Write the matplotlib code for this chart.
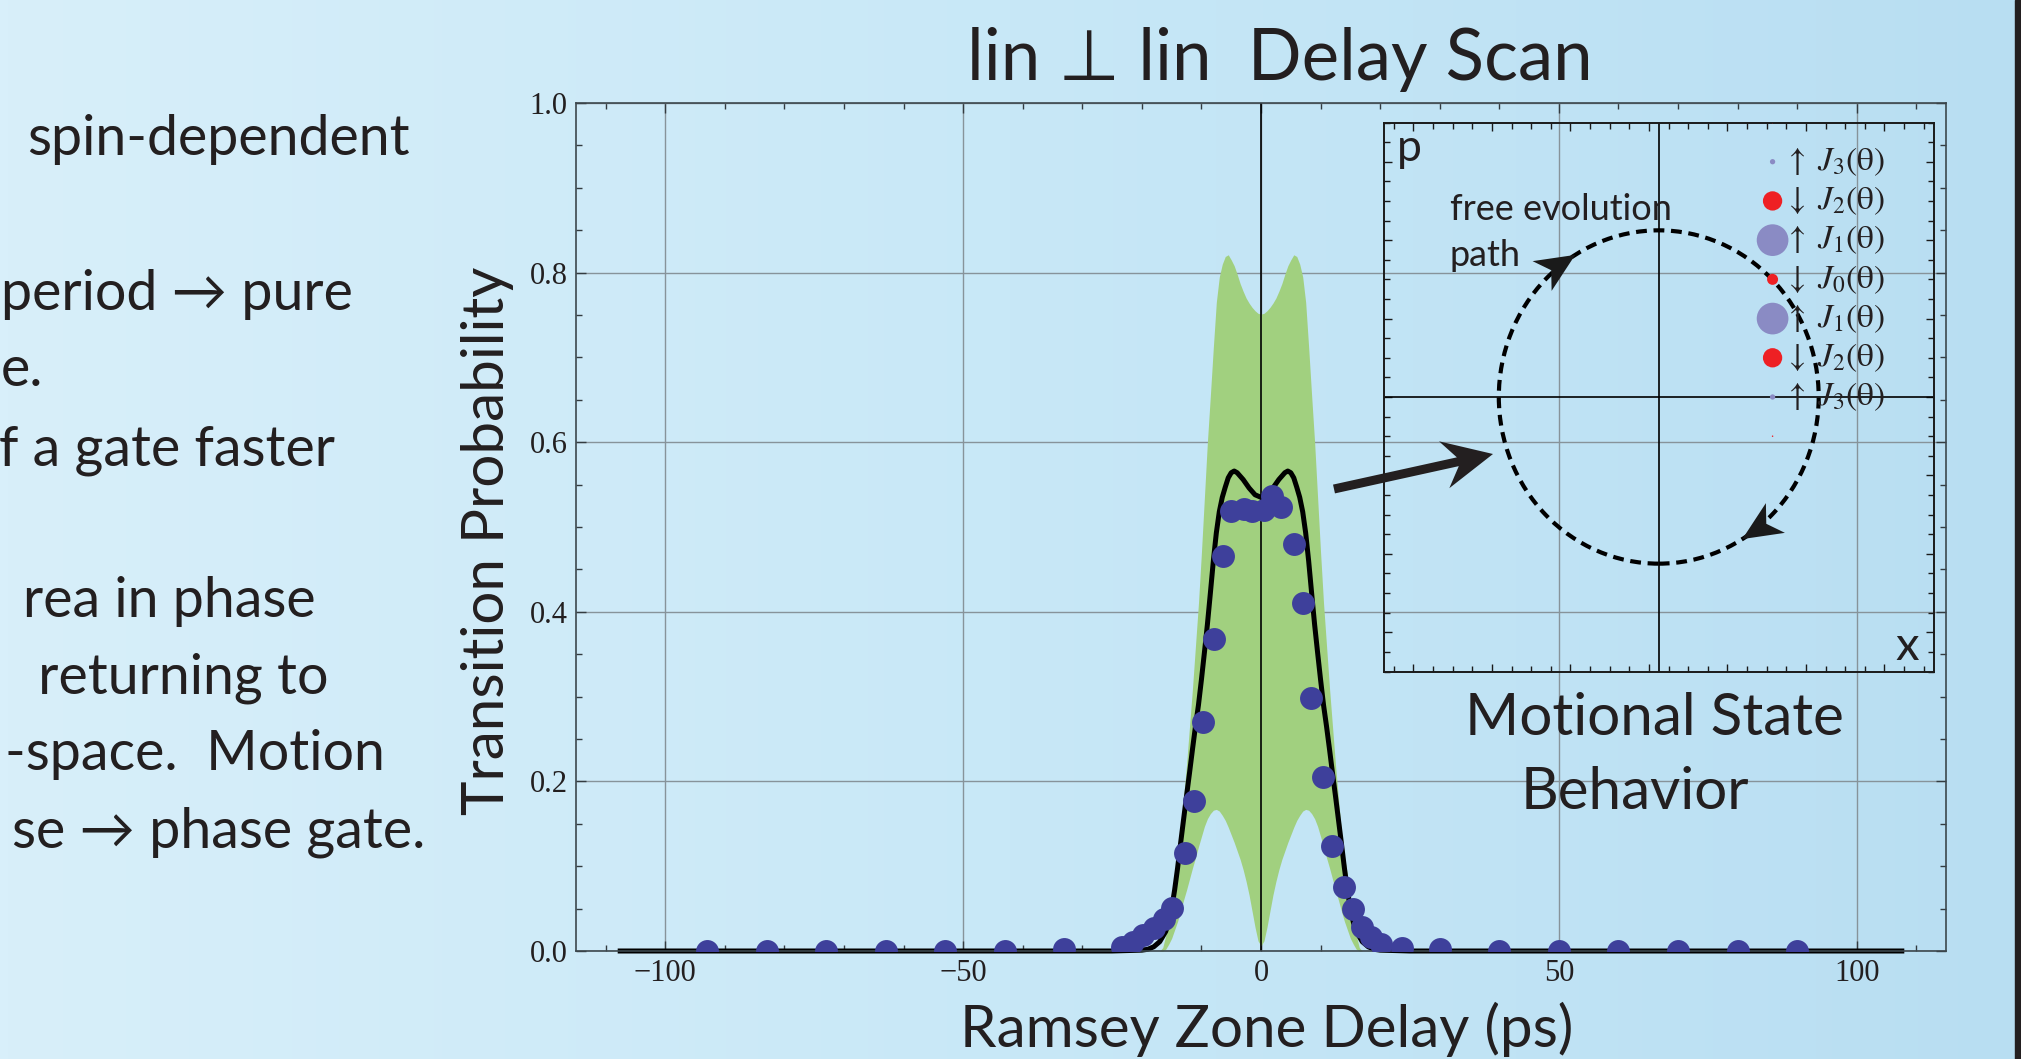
import numpy as np
import matplotlib
matplotlib.use("Agg")
import matplotlib.pyplot as plt
from matplotlib.colors import LinearSegmentedColormap
from matplotlib.patches import Ellipse, Polygon, Rectangle
from matplotlib.ticker import MultipleLocator, FixedLocator

plt.rcParams['font.family'] = ['Lato', 'DejaVu Sans']
plt.rcParams['mathtext.fontset'] = 'stix'

# ---- measured transition probability vs Ramsey zone delay ----
delay_meas = [-93, -83, -73, -63, -53, -43, -33, -23.3, -21.5, -19.8, -18.0, -16.3, -14.9,
              -12.8, -11.3, -9.8, -7.9, -6.4, -5.0, -2.9, -1.5, 0.5, 1.8, 3.4,
              5.5, 7.0, 8.4, 10.4, 11.9, 13.9, 15.4, 16.9, 18.5, 20.2, 23.6,
              30, 40, 50, 60, 70, 80, 90]
prob_meas = [0, 0, 0, 0, 0, 0, 0.002, 0.005, 0.011, 0.019, 0.027, 0.038, 0.051,
             0.115, 0.177, 0.270, 0.368, 0.466, 0.519, 0.521, 0.519, 0.520, 0.536, 0.523,
             0.480, 0.410, 0.298, 0.205, 0.124, 0.076, 0.049, 0.028, 0.017, 0.008, 0.003,
             0.002, 0, 0, 0, 0, 0, 0]

# ---- theory curve ----
delay_theory = [-108, -25, -20, -19, -18, -17, -16, -15.5, -15, -14.5, -14, -13.5, -13, -12.5,
                -12, -11.5, -11, -10.5, -10, -9.5, -9, -8.5, -8, -7.5, -7, -6.5, -6, -5.5,
                -5, -4.5, -4, -3, -2, -1, 0, 1, 2, 3, 4, 4.5, 5, 5.5, 6, 6.5, 7, 7.5, 8,
                8.5, 9, 9.5, 10, 10.5, 11, 11.5, 12, 12.5, 13, 13.5, 14, 14.5, 15, 15.5,
                16, 17, 18, 19, 20, 25, 108]
prob_theory = [0, 0, .001, .002, .005, .011, .023, .034, .050, .072, .098, .127, .155, .183,
               .210, .238, .265, .290, .320, .352, .385, .422, .460, .493, .518, .535, .547, .558,
               .564, .566, .564, .556, .546, .538, .535, .538, .546, .556, .564, .566, .564, .558,
               .547, .535, .518, .493, .460, .422, .385, .352, .320, .290, .265, .238, .210, .183,
               .155, .127, .098, .072, .050, .034, .023, .011, .005, .002, .001, 0, 0]

# ---- uncertainty band of the theory ----
band_delay = np.arange(-17, 17.5, 0.5)
band_upper = [.000, .004, .018, .040, .065, .090, .112, .140, .180, .220, .265, .310, .360, .410,
              .470, .535, .600, .655, .712, .765, .795, .810, .819, .821, .815, .808, .798, .787,
              .778, .770, .764, .759, .755, .752, .751, .752, .755, .759, .764, .770, .778, .787,
              .798, .808, .815, .821, .819, .810, .795, .765, .712, .655, .600, .535, .470, .410,
              .360, .310, .265, .220, .180, .140, .112, .090, .065, .040, .018, .004, .000]
band_lower = [.000, .000, .002, .008, .015, .025, .035, .047, .060, .072, .085, .098, .110, .123,
              .135, .147, .156, .162, .166, .167, .165, .160, .154, .146, .137, .128, .118, .108,
              .096, .082, .066, .047, .028, .012, .006, .012, .028, .047, .066, .082, .096, .108,
              .118, .128, .137, .146, .154, .160, .165, .167, .166, .162, .156, .147, .135, .123,
              .110, .098, .085, .072, .060, .047, .035, .025, .015, .008, .002, .000, .000]

# ---- motional state populations (phase space inset) ----
state_p = [1.4, 1.2, 1.0, 0.8, 0.6, 0.4, 0.2, 0.0, -0.2]
state_diam_px = [1.5, 5.3, 19.3, 31.7, 11.0, 31.7, 19.3, 5.3, 1.5]
state_spin = ['down', 'up', 'down', 'up', 'down', 'up', 'down', 'up', 'down']
state_order = [None, 3, 2, 1, 0, 1, 2, 3, None]
spin_color = {'up': '#8a8bc4', 'down': '#ee2024'}
spin_arrow = {'up': r'\uparrow', 'down': r'\downarrow'}

W, H = 2021, 1059
TXT = '#231f20'


def fx(x):
    return x / W


def fy(y):
    return 1 - y / H


def stealth(tail, tip, shaft_w, head_len, head_w, notch):
    t = np.asarray(tail, float)
    h = np.asarray(tip, float)
    u = (h - t) / np.hypot(*(h - t))
    n = np.array([-u[1], u[0]])
    back = h - u * head_len
    joint = h - u * (head_len - notch)
    return [t + n * shaft_w / 2, joint + n * shaft_w / 2, back + n * head_w / 2, h,
            back - n * head_w / 2, joint - n * shaft_w / 2, t - n * shaft_w / 2]


fig = plt.figure(figsize=(W / 100, H / 100), dpi=100)

# slide background
bg = fig.add_axes([0, 0, 1, 1], zorder=-10)
slide = LinearSegmentedColormap.from_list('slide', ['#d8effa', '#c8e8f7', '#b8def2'])
bg.imshow(np.linspace(0, 1, 512)[None, :], aspect='auto', cmap=slide, extent=[0, 1, 0, 1])
bg.add_patch(Rectangle((2015 / W, 0), 6 / W, 1, color='#231f20', transform=bg.transAxes))
bg.set_xlim(0, 1)
bg.set_ylim(0, 1)
bg.set_axis_off()

# bullet text on the left of the slide (cut by the slide edge)
bullets = [("spin-dependent", 410, 155),
           ("period \u2192 pure", 353, 310),
           ("e.", 43, 386),
           ("f a gate faster", 335, 465),
           ("rea in phase", 316, 617),
           (" returning to", 328, 693),
           ("-space.  Motion", 385, 770),
           ("se \u2192 phase gate.", 425, 847)]
for s, xr, yb in bullets:
    fig.text(fx(xr), fy(yb), s, ha='right', va='baseline', fontsize=40, color=TXT)

# main plot
ax = fig.add_axes([fx(576), fy(951), fx(1946) - fx(576), fy(103) - fy(951)])
ax.set_facecolor('none')
ax.set_xlim(-115, 115)
ax.set_ylim(0, 1)
ax.set_axisbelow(True)
ax.grid(which='major', color='#87939a', lw=1.0)
ax.axvline(0, color='black', lw=1.2, zorder=1.5)

ax.fill_between(band_delay, band_lower, band_upper, color='#a1d07f', lw=0, zorder=1)
ax.plot(delay_theory, prob_theory, color='black', lw=3.6, zorder=2, clip_on=False,
        solid_capstyle='butt')
ax.scatter(delay_meas, prob_meas, s=16.5 ** 2, color='#3e409b', lw=0, zorder=3)

ax.xaxis.set_major_locator(FixedLocator([-100, -50, 0, 50, 100]))
ax.xaxis.set_minor_locator(MultipleLocator(10))
ax.yaxis.set_major_locator(MultipleLocator(0.2))
ax.yaxis.set_minor_locator(MultipleLocator(0.05))
ax.yaxis.set_major_formatter(lambda v, pos: f"{v:.1f}")
ax.tick_params(which='both', direction='in', top=True, right=True, color='#333b40', width=1.0)
ax.tick_params(which='major', length=7, labelsize=22, labelcolor=TXT, pad=6)
ax.tick_params(which='minor', length=4.5)
for lbl in ax.get_xticklabels() + ax.get_yticklabels():
    lbl.set_fontfamily(['Liberation Serif', 'DejaVu Serif'])
for sp in ax.spines.values():
    sp.set_color('#3c474d')
    sp.set_linewidth(1.2)

fig.text(fx(1280), fy(80), "lin \u22a5 lin  Delay Scan", ha='center', va='baseline',
         fontsize=51, color=TXT)
fig.text(fx(487), fy(541), "Transition Probability", rotation=90, ha='center', va='center',
         fontsize=42, color=TXT)
fig.text(fx(1267), fy(1047), "Ramsey Zone Delay (ps)", ha='center', va='baseline',
         fontsize=42, color=TXT)
fig.text(fx(1654), fy(735), "Motional State", ha='center', va='baseline', fontsize=42, color=TXT)
fig.text(fx(1635), fy(809), "Behavior", ha='center', va='baseline', fontsize=42, color=TXT)

# arrow pointing into the phase-space sketch
to_in = lambda x, y: (x / 100, (H - y) / 100)
big = stealth(to_in(1334, 489), to_in(1493, 454), 0.09, 0.50, 0.48, 0.14)
fig.patches.append(Polygon(big, closed=True, color='#231f20', lw=0,
                           transform=fig.dpi_scale_trans, figure=fig))

# phase-space inset
ins = fig.add_axes([fx(1384), fy(671.5), fx(1933.5) - fx(1384), fy(122.5) - fy(671.5)])
ins.set_facecolor('none')
ins.set_xlim(-1.4, 1.4)
ins.set_ylim(-1.4, 1.4)
ins.axhline(0, color='black', lw=1.2)
ins.axvline(0, color='black', lw=1.2)
ins.xaxis.set_major_locator(FixedLocator([-1.25, -0.85, -0.45, -0.05, 0.35, 0.75, 1.15]))
ins.xaxis.set_minor_locator(FixedLocator(np.arange(-1.35, 1.4, 0.1)))
ins.yaxis.set_major_locator(MultipleLocator(0.4))
ins.yaxis.set_minor_locator(MultipleLocator(0.1))
ins.tick_params(which='both', direction='in', top=True, right=True, labelbottom=False,
                labelleft=False, color='#1a1a1a', width=1.0)
ins.tick_params(which='major', length=6)
ins.tick_params(which='minor', length=4)
for sp in ins.spines.values():
    sp.set_color('#1a1a1a')
    sp.set_linewidth(1.4)

rx, ry = 0.815, 0.85
ins.add_patch(Ellipse((0, 0), 2 * rx, 2 * ry, fill=False, color='black', lw=3.0,
                      ls=(0, (2.6, 1.6)), zorder=3))
for ang in (121.5, -58.5):
    t = np.radians(ang)
    tip = np.array([rx * np.cos(t), ry * np.sin(t)])
    tang = np.array([rx * np.sin(t), -ry * np.cos(t)])
    tang /= np.hypot(*tang)
    head = stealth(tip - tang * 0.2, tip, 0.0, 0.2, 0.18, 0.055)
    ins.add_patch(Polygon(head, closed=True, color='#1a1a1a', lw=0, zorder=3))

ins.scatter([0.58] * len(state_p), state_p, s=[(d * 0.72) ** 2 for d in state_diam_px],
            c=[spin_color[s] for s in state_spin], lw=0, zorder=4)
for p, spin, n in zip(state_p, state_spin, state_order):
    if n is None:
        continue
    ins.text(0.64, p, rf"${spin_arrow[spin]}\;J_{n}(\mathrm{{\theta}})$", ha='left', va='center',
             fontsize=24, color=TXT, zorder=5)

ins.text(-1.066, 0.905, "free evolution", ha='left', va='baseline', fontsize=26, color=TXT)
ins.text(-1.066, 0.666, "path", ha='left', va='baseline', fontsize=26, color=TXT)
fig.text(fx(1397), fy(161), "p", ha='left', va='baseline', fontsize=32, color=TXT)
fig.text(fx(1895), fy(660), "x", ha='left', va='baseline', fontsize=34, color=TXT)

fig.savefig('out.png', dpi=100)
